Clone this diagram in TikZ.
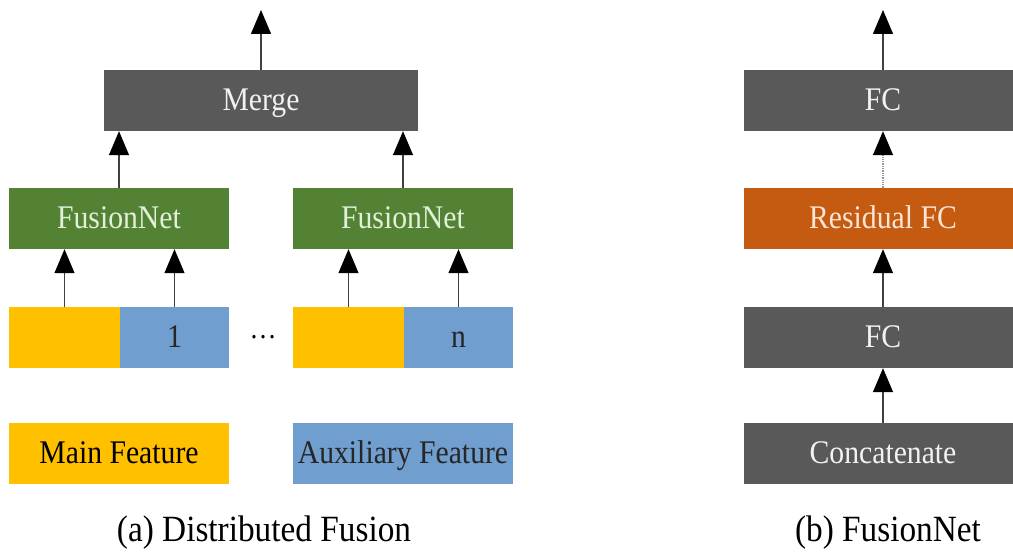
\documentclass[tikz,border=0pt]{standalone}
\usepackage{fontspec}
\setmainfont{Liberation Serif}
\newfontfamily\tfont[FakeStretch=0.9]{Liberation Serif}
\usetikzlibrary{arrows.meta}
\definecolor{dgray}{HTML}{595959}
\definecolor{fgreen}{HTML}{548235}
\definecolor{forange}{HTML}{FFC000}
\definecolor{fblue}{HTML}{6F9ECF}
\definecolor{rorange}{HTML}{C55A11}
\definecolor{gtext}{HTML}{E2F0D9}
\definecolor{otext}{HTML}{FBE5D6}
\tikzset{
  box/.style={rectangle, inner sep=0pt, minimum height=61pt, text height=25pt, text depth=5pt, font=\tfont\fontsize{33}{35}\selectfont},
  graybox/.style={box, fill=dgray, text=white!95!black},
  greenbox/.style={box, fill=fgreen, text=gtext},
  orangebox/.style={box, fill=forange, text=black},
  bluebox/.style={box, fill=fblue, text=black!85},
  resbox/.style={box, fill=rorange, text=otext},
  conn/.style={-{Triangle[width=20pt,length=24pt,color=black,fill=black]}, line width=1.3pt, draw=black!75},
  dotconn/.style={conn, densely dotted, draw=black!40},
  caption/.style={font=\tfont\fontsize{37}{39}\selectfont, inner sep=0pt}
}
\begin{document}
\begin{tikzpicture}[x=1pt,y=-1pt]
\useasboundingbox (0,0) rectangle (1013,553);
\begin{scope}
\clip (0,0) rectangle (1013,553);
% (a) Distributed fusion
\node[graybox, minimum width=314pt] (merge) at (261,100.5) {Merge};
\node[greenbox, minimum width=220pt] (fn1) at (119,218.5) {FusionNet};
\node[greenbox, minimum width=220pt] (fn2) at (403,218.5) {FusionNet};
\node[orangebox, minimum width=111pt] (lo) at (64.5,337.5) {};
\node[bluebox, minimum width=109pt] (lb) at (174.5,337.5) {1};
\node[orangebox, minimum width=111pt] (ro) at (348.5,337.5) {};
\node[bluebox, minimum width=109pt] (rb) at (458.5,337.5) {n};
\node[font=\tfont\fontsize{30}{32}\selectfont, inner sep=0pt, anchor=base] (dots) at (263,339) {…};
\node[orangebox, minimum width=220pt] (mainf) at (119,453.5) {Main Feature};
\node[bluebox, minimum width=220pt] (auxf) at (403,453.5) {Auxiliary Feature};
\node[caption] (capa) at (264,533) {(a) Distributed Fusion};
\coordinate (outa) at (261,10);
\draw[conn] (merge.north) -- (outa);
\draw[conn] (fn1.north) -- (fn1.north |- merge.south);
\draw[conn] (fn2.north) -- (fn2.north |- merge.south);
\draw[conn] (lo.north) -- (lo.north |- fn1.south);
\draw[conn] (lb.north) -- (lb.north |- fn1.south);
\draw[conn] (ro.north) -- (ro.north |- fn2.south);
\draw[conn] (rb.north) -- (rb.north |- fn2.south);
% (b) FusionNet
\node[graybox, minimum width=278pt] (fc2) at (883,100.5) {FC};
\node[resbox, minimum width=278pt] (res) at (883,218.5) {Residual FC};
\node[graybox, minimum width=278pt] (fc1) at (883,337.5) {FC};
\node[graybox, minimum width=278pt] (cat) at (883,453.5) {Concatenate};
\node[caption] (capb) at (888,533) {(b) FusionNet};
\coordinate (outb) at (883,10);
\draw[conn] (fc2.north) -- (outb);
\draw[dotconn] (res.north) -- (fc2.south);
\draw[conn] (fc1.north) -- (res.south);
\draw[conn] (cat.north) -- (fc1.south);
\end{scope}
\end{tikzpicture}
\end{document}
